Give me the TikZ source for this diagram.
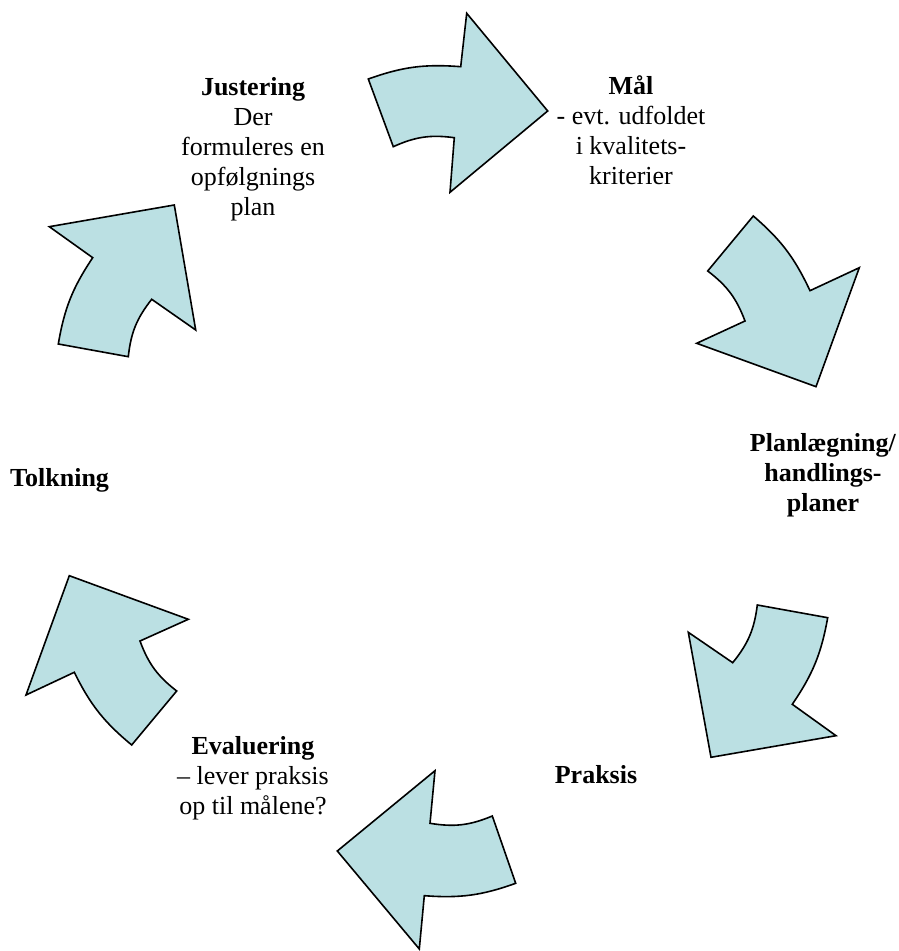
\documentclass[tikz,border=0pt]{standalone}
\usepackage{fontspec}
\setmainfont{Liberation Serif}
\definecolor{arrowfill}{HTML}{BBE0E3}
\begin{document}
\begin{tikzpicture}[x=1pt,y=1pt,
  arrowshape/.style={draw=black, fill=arrowfill, line width=1.6pt, line join=miter},
  outerarc/.style={bend left=12},
  innerarc/.style={bend right=16},
  lbl/.style={font=\fontsize{26}{30}\selectfont, align=center, inner sep=0pt, anchor=base}]
\useasboundingbox (0,0) rectangle (899,951);
% top arrow (pointing right)
\draw[arrowshape] (368.3,872) to[outerarc] (460.7,884.3) -- (466.7,937.7) -- (547.7,840)
  -- (450,758.7) -- (454.3,813.3) to[innerarc] (393.3,804.3) -- cycle;
% upper right arrow
\draw[arrowshape] (753.3,735) to[outerarc] (810,660.3) -- (859.3,683.3) -- (816,564.3)
  -- (696.7,607.7) -- (745,630) to[innerarc] (707.7,680) -- cycle;
% lower right arrow
\draw[arrowshape] (827.7,333.3) to[outerarc] (792.3,246.7) -- (836,215.3) -- (711,193.7)
  -- (688.3,318.7) -- (732.7,288.3) to[innerarc] (757.3,346) -- cycle;
% bottom arrow
\draw[arrowshape] (515.7,67.7) to[outerarc] (424.3,55.3) -- (419.3,2) -- (337.3,100)
  -- (435,180.3) -- (430,127.7) to[innerarc] (492.3,135) -- cycle;
% lower left arrow
\draw[arrowshape] (131.7,206) to[outerarc] (74.3,278.7) -- (26,256) -- (69.3,375.3)
  -- (188.3,331.7) -- (140,310) to[innerarc] (176.7,260) -- cycle;
% upper left arrow
\draw[arrowshape] (58.3,607) to[outerarc] (92.7,693.3) -- (49.3,724.3) -- (174.3,746)
  -- (195.7,621) -- (151.7,651.7) to[innerarc] (128.3,594.3) -- cycle;
% labels (base anchor = baseline of the last line)
\node[lbl] (maal) at (631,766) {\textbf{Mål}\\- evt. udfoldet\\i kvalitets-\\kriterier};
\node[lbl] (justering) at (253,735) {\textbf{Justering}\\Der\\formuleres en\\opfølgnings\\plan};
\node[lbl] (planl) at (823,439) {\textbf{Planlægning/}\\\textbf{handlings-}\\\textbf{planer}};
\node[lbl, anchor=base west] (tolkning) at (10,464.3) {\textbf{Tolkning}};
\node[lbl] (evaluering) at (253,136.7) {\textbf{Evaluering}\\– lever praksis\\op til målene?};
\node[lbl] (praksis) at (596,167.7) {\textbf{Praksis}};
\end{tikzpicture}
\end{document}
